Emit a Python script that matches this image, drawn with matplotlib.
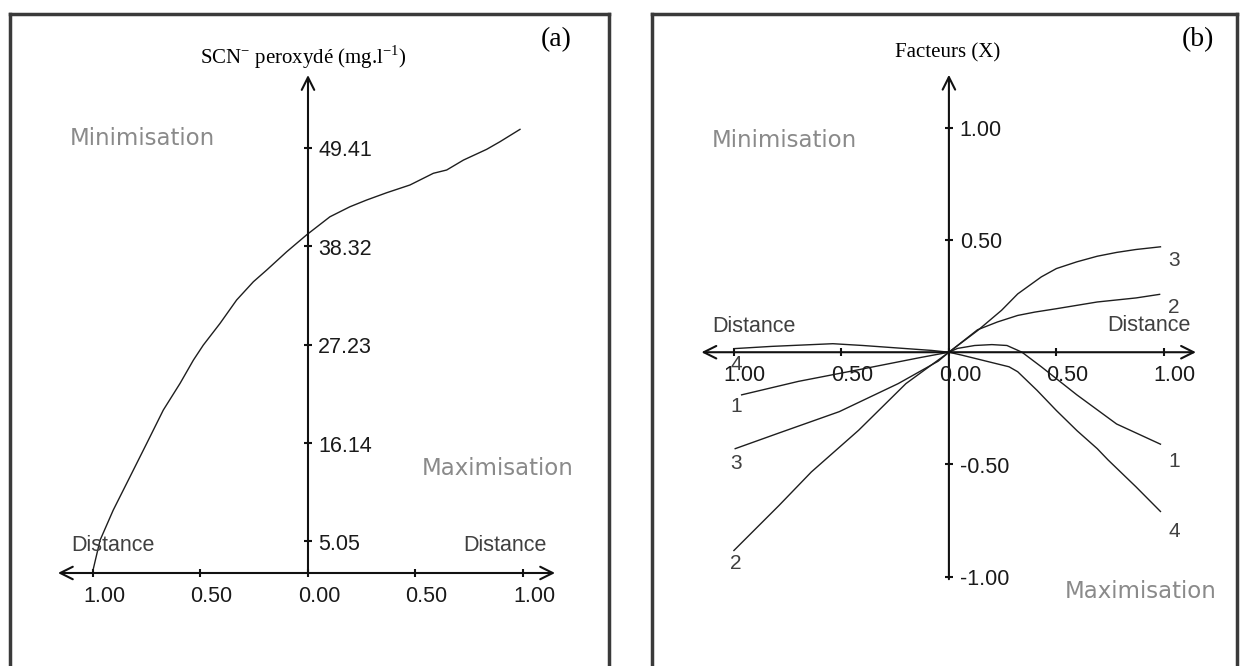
import matplotlib
matplotlib.use("Agg")
import matplotlib.pyplot as plt

plt.rcParams['mathtext.fontset'] = 'custom'
plt.rcParams['mathtext.rm'] = 'Liberation Serif'

# ---- panel (a) data : SCN- peroxyde vs distance ----
xa = [-1.0, -0.967, -0.906, -0.828, -0.75, -0.673, -0.595, -0.533, -0.487, -0.409,
      -0.332, -0.254, -0.192, -0.099, -0.006, 0.102, 0.195, 0.273, 0.366, 0.474,
      0.583, 0.645, 0.723, 0.831, 0.893, 0.986]
ya = [1.8, 5.19, 8.57, 12.33, 16.1, 19.85, 22.86, 25.48, 27.17, 29.62,
      32.25, 34.31, 35.63, 37.69, 39.6, 41.63, 42.76, 43.52, 44.34, 45.21,
      46.53, 46.9, 48.02, 49.23, 50.09, 51.48]
yticks_a = [5.05, 16.14, 27.23, 38.32, 49.41]
xticks = [-1.0, -0.5, 0.0, 0.5, 1.0]

# ---- panel (b) data : factors 1..4 vs distance ----
x1 = [-0.964, -0.70, -0.42, -0.14, 0.0, 0.04, 0.12, 0.20, 0.27, 0.34, 0.43, 0.595, 0.78, 0.984]
y1 = [-0.19, -0.13, -0.078, -0.025, 0.0, 0.017, 0.03, 0.034, 0.03, 0.0, -0.065, -0.19, -0.32, -0.41]
x2 = [-1.0, -0.79, -0.64, -0.42, -0.20, 0.0, 0.133, 0.226, 0.32, 0.40, 0.50, 0.69, 0.87, 0.98]
y2 = [-0.884, -0.683, -0.534, -0.348, -0.14, 0.0, 0.10, 0.135, 0.164, 0.179, 0.194, 0.224, 0.242, 0.258]
x3 = [-0.994, -0.79, -0.51, -0.236, -0.05, 0.0, 0.134, 0.245, 0.32, 0.43, 0.50, 0.595, 0.69, 0.78,
      0.87, 0.984]
y3 = [-0.43, -0.36, -0.265, -0.14, -0.04, 0.0, 0.097, 0.187, 0.26, 0.336, 0.373, 0.403, 0.428, 0.445,
      0.458, 0.47]
x4 = [-1.0, -0.825, -0.54, -0.40, -0.08, 0.0, 0.06, 0.28, 0.32, 0.41, 0.50, 0.596, 0.69, 0.74, 0.87, 0.984]
y4 = [0.016, 0.026, 0.038, 0.03, 0.008, 0.0, -0.013, -0.065, -0.087, -0.17, -0.26, -0.35, -0.43, -0.48, -0.60, -0.71]
yticks_b = [-1.0, -0.5, 0.5, 1.0]
curves_b = [(x1, y1, '1'), (x2, y2, '2'), (x3, y3, '3'), (x4, y4, '4')]
left_lab_y = {'1': -0.24, '2': -0.94, '3': -0.497, '4': -0.055}
right_lab_y = {'1': -0.487, '2': 0.20, '3': 0.41, '4': -0.80}

fig = plt.figure(figsize=(12.4, 6.66), dpi=100)
ax_a = fig.add_axes([10/1240, 0, 599/1240, 652/666])
ax_b = fig.add_axes([652/1240, 0, 585/1240, 652/666])

box_col = '#3a3a3a'
gray = '#8a8a8a'
dark = '#404040'
num_font = dict(family=['Liberation Sans', 'DejaVu Sans'], fontsize=15.5, color='#1a1a1a')
word_font = dict(family='DejaVu Sans', fontsize=16.5, color=gray)
dist_font = dict(family=['Liberation Sans', 'DejaVu Sans'], fontsize=15.5, color=dark)

for ax in (ax_a, ax_b):
    ax.set_xticks([])
    ax.set_yticks([])
    ax.spines['bottom'].set_visible(False)
    for s in ('left', 'right', 'top'):
        ax.spines[s].set_linewidth(2.5)
        ax.spines[s].set_color(box_col)

arrow = dict(arrowstyle='<->,head_length=0.9,head_width=0.45', lw=1.5, color='#111111',
             shrinkA=0, shrinkB=0)
arrow1 = dict(arrowstyle='->,head_length=0.9,head_width=0.45', lw=1.5, color='#111111',
              shrinkA=0, shrinkB=0)

# ================= panel (a) =================
ax_a.set_xlim(-1.386, 1.40)
ax_a.set_ylim(-8.99, 64.48)
y0a = 1.49
ax_a.annotate('', xy=(1.149, y0a), xytext=(-1.163, y0a), arrowprops=arrow)
ax_a.annotate('', xy=(0, 57.6), xytext=(0, y0a), arrowprops=arrow1)
ax_a.plot(xticks, [y0a]*len(xticks), '|', ms=6, mew=1.5, color='#111111')
ax_a.plot([0]*len(yticks_a), yticks_a, '_', ms=6, mew=1.5, color='#111111')
for t in xticks:
    ax_a.text(t - 0.047, y0a - 2.6, '%.2f' % abs(t), ha='left', va='center', **num_font)
for t in yticks_a:
    ax_a.text(0.047, t - 0.35, '%.2f' % t, ha='left', va='center', **num_font)
ax_a.plot(xa, ya, color='#1e1e1e', lw=1.0)

ax_a.text(-1.107, 50.5, 'Minimisation', ha='left', va='center', **word_font)
ax_a.text(0.53, 13.3, 'Maximisation', ha='left', va='center', **word_font)
ax_a.text(-1.102, 4.63, 'Distance', ha='left', va='center', **dist_font)
ax_a.text(0.72, 4.63, 'Distance', ha='left', va='center', **dist_font)
ax_a.text(-0.023, 59.6, r'SCN$^{\mathregular{-}}$ peroxydé (mg.l$^{\mathregular{-1}}$)',
          ha='center', va='center', family='Liberation Serif', fontsize=15)
ax_a.text(1.153, 61.55, '(a)', ha='center', va='center', family='Liberation Serif', fontsize=20)

# ================= panel (b) =================
ax_b.set_xlim(-1.381, 1.340)
ax_b.set_ylim(-1.399, 1.508)
ax_b.annotate('', xy=(1.149, 0), xytext=(-1.151, 0), arrowprops=arrow)
ax_b.annotate('', xy=(0, 1.237), xytext=(0, -1.012), arrowprops=arrow1)
ax_b.plot(xticks, [0]*len(xticks), '|', ms=6, mew=1.5, color='#111111')
ax_b.plot([0]*len(yticks_b), yticks_b, '_', ms=6, mew=1.5, color='#111111')
for t in xticks:
    ax_b.text(t - 0.047, -0.105, '%.2f' % abs(t), ha='left', va='center', **num_font)
for t in yticks_b:
    ax_b.text(0.05, t - 0.012, '%.2f' % t, ha='left', va='center', **num_font)
for xs, ys, lab in curves_b:
    ax_b.plot(xs, ys, color='#1e1e1e', lw=1.0)
    ax_b.text(-0.99, left_lab_y[lab], lab, ha='center', va='center', family='Liberation Sans',
              fontsize=15, color=dark)
    ax_b.text(1.047, right_lab_y[lab], lab, ha='center', va='center', family='Liberation Sans',
              fontsize=15, color=dark)

ax_b.text(-1.102, 0.946, 'Minimisation', ha='left', va='center', **word_font)
ax_b.text(0.54, -1.069, 'Maximisation', ha='left', va='center', **word_font)
ax_b.text(-1.10, 0.115, 'Distance', ha='left', va='center', **dist_font)
ax_b.text(0.735, 0.12, 'Distance', ha='left', va='center', **dist_font)
ax_b.text(-0.005, 1.335, 'Facteurs (X)', ha='center', va='center', family='Liberation Serif',
          fontsize=15)
ax_b.text(1.158, 1.393, '(b)', ha='center', va='center', family='Liberation Serif', fontsize=20)

fig.savefig('out.png', dpi=100)
